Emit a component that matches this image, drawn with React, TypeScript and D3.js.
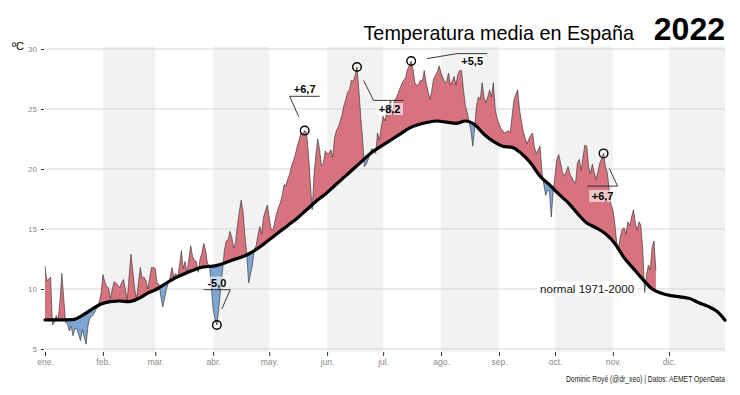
import React, { useEffect, useRef } from "react";
import * as d3 from "d3";

// month tick labels
const monthLabels = ["ene.", "feb.", "mar.", "abr.", "may.", "jun.", "jul.", "ago.", "sep.", "oct.", "nov.", "dic."];
const yTicks = [5, 10, 15, 20, 25, 30];

// daily mean temperature 2022 (ºC), one value per day from 1 Jan
const tempDaily = [
  // ene.
  11.9, 10.7, 10.8, 11.0, 7.0, 7.2, 7.8, 7.4, 9.0, 11.3, 9.3, 7.2, 7.1, 6.5, 6.9, 6.1, 6.7, 6.7, 6.2, 5.7,
  6.6, 6.0, 5.4, 6.9, 7.6, 7.7, 7.9, 8.2, 8.5, 8.9, 9.6,
  // feb.
  11.2, 10.6, 10.2, 10.1, 9.2, 10.0, 10.6, 10.5, 10.3, 10.1, 10.5, 10.8, 10.0, 9.1, 11.0, 12.9, 11.5, 10.0,
  9.2, 10.5, 11.8, 10.9, 11.0, 10.7, 10.0, 10.9, 11.8, 11.8,
  // mar.
  11.7, 10.5, 10.4, 9.4, 8.5, 9.2, 10.0, 10.5, 11.0, 11.8, 11.0, 11.3, 10.9, 12.0, 13.2, 11.7, 12.3, 11.3,
  12.5, 13.6, 12.7, 12.4, 12.3, 11.4, 12.5, 13.0, 13.8, 13.2, 12.1, 12.0, 10.2,
  // abr.
  8.3, 7.5, 7.0, 8.3, 10.0, 11.5, 13.2, 14.0, 14.1, 14.8, 14.3, 13.4, 13.9, 15.3, 16.4, 17.4, 16.5, 14.5,
  12.9, 10.5, 11.2, 12.0, 13.3, 13.6, 14.5, 15.2, 14.6, 16.0, 16.5, 17.0,
  // may.
  16.0, 15.0, 14.9, 15.6, 16.3, 16.8, 17.2, 17.8, 18.7, 18.6, 19.2, 19.6, 20.3, 20.7, 21.2, 21.9, 22.4, 23.0,
  22.9, 23.2, 23.0, 21.3, 19.0, 16.6, 19.5, 21.2, 22.5, 21.6, 20.3, 20.5, 21.5,
  // jun.
  21.3, 21.3, 21.6, 21.0, 22.6, 23.2, 23.5, 24.0, 24.5, 25.3, 25.8, 26.4, 26.6, 27.4, 27.3, 27.8, 28.5, 26.6,
  24.4, 22.5, 20.2, 20.4, 20.8, 21.3, 21.7, 21.5, 21.3, 23.0, 22.4, 23.5,
  // jul.
  24.4, 24.0, 24.8, 25.3, 25.7, 24.6, 25.7, 25.9, 26.3, 26.7, 27.1, 27.4, 27.6, 28.3, 28.6, 29.0, 28.3, 27.2,
  26.9, 27.1, 27.4, 27.3, 28.2, 27.2, 26.5, 25.8, 26.5, 27.5, 27.8, 28.1, 28.6,
  // ago.
  28.0, 27.6, 27.2, 27.3, 28.0, 27.0, 27.3, 27.7, 27.0, 27.9, 28.2, 28.2, 26.6, 25.3, 24.7, 24.0, 23.2, 21.9,
  23.5, 25.3, 26.0, 25.8, 27.2, 26.0, 25.5, 26.0, 26.6, 26.0, 27.2, 25.0, 24.2,
  // sep.
  23.8, 23.4, 23.2, 23.0, 23.1, 23.2, 23.0, 24.4, 25.7, 26.2, 26.6, 25.0, 24.0, 23.1, 22.6, 22.1, 22.5, 22.8,
  23.0, 21.8, 21.3, 21.6, 21.9, 19.8, 18.7, 17.8, 18.2, 18.2, 16.0, 18.0,
  // oct.
  19.5, 20.8, 21.2, 20.5, 19.7, 19.4, 19.8, 20.2, 19.6, 19.3, 19.0, 18.8, 20.5, 20.8, 19.9, 21.0, 22.0, 21.9,
  20.2, 19.6, 20.4, 19.7, 19.1, 19.8, 20.5, 20.9, 21.3, 20.2, 19.7, 18.3, 17.0,
  // nov.
  16.6, 15.5, 13.9, 13.4, 14.4, 15.0, 15.1, 14.6, 15.6, 15.3, 16.0, 16.6, 15.5, 14.9, 15.6, 15.3, 13.2, 9.7,
  11.2, 12.0, 11.6, 13.5, 14.0, 11.5,
];

// normal 1971-2000: day of year -> ºC
const normalDay = [
  0, 5, 10, 15, 20, 25, 30, 35, 40, 45, 50, 55, 60, 65, 70, 75, 80, 85, 90, 95, 100, 105, 110, 115, 120, 125,
  130, 135, 140, 145, 150, 155, 160, 165, 170, 175, 180, 185, 190, 195, 200, 205, 210, 215, 220, 225, 230, 235,
  240, 245, 250, 255, 260, 265, 270, 275, 280, 285, 290, 295, 300, 305, 310, 315, 320, 325, 330, 335, 340, 345,
  350, 355, 360, 364,
];
const normalTemp = [
  7.42, 7.42, 7.43, 7.45, 7.8, 8.3, 8.75, 8.95, 9.0, 8.95, 9.2, 9.65, 10.0, 10.5, 10.95, 11.3, 11.6, 11.85, 11.9,
  12.1, 12.4, 12.65, 13.0, 13.5, 14.1, 14.7, 15.3, 15.9, 16.6, 17.3, 17.9, 18.6, 19.3, 20.0, 20.7, 21.4, 21.9,
  22.4, 22.9, 23.4, 23.7, 23.9, 24.0, 23.9, 23.8, 24.0, 23.7, 22.9, 22.3, 21.9, 21.8, 21.3, 20.5, 19.4, 18.7,
  17.9, 17.2, 16.3, 15.5, 15.1, 14.6, 13.8, 12.6, 11.7, 10.8, 10.0, 9.65, 9.45, 9.35, 9.2, 8.85, 8.55, 8.1, 7.4,
];

// highlighted anomalies
const annDay = [92, 139, 167, 196, 299];
const annLabel = ["-5,0", "+6,7", "+8,2", "+5,5", "+6,7"];

const W = 740;
const H = 395;
const FONT = "'Liberation Sans', Arial, sans-serif";
const NARROW = "'Liberation Sans Narrow', 'Arial Narrow', 'Liberation Sans', Arial, sans-serif";

// connector layout relative to the circle: start, elbow, end of the horizontal, text x, text baseline
const annLayout = [
  { s: [5, -16], e: [13.3, -35.3], lx: -13.4, tx: 0, ty: -38.5 },
  { s: [-6, -14], e: [-15, -34.3], lx: 15, tx: 0, ty: -38 },
  { s: [6.6, 13.4], e: [16.6, 33.4], lx: 46.6, tx: 32.6, ty: 46 },
  { s: [16, -2.4], e: [46, -7.4], lx: 76, tx: 61, ty: 4.3 },
  { s: [5.7, 15], e: [14, 32.7], lx: -16, tx: -1, ty: 46.5 },
];

const App = () => {
  const svgRef = useRef<SVGSVGElement>(null);

  useEffect(() => {
    document.body.style.margin = "0";
    const svg = d3.select(svgRef.current);
    svg.selectAll("*").remove();

    const day0 = new Date(Date.UTC(2022, 0, 1));
    const dayDate = (d: number) => d3.utcDay.offset(day0, d);
    const x = d3.scaleUtc().domain([day0, dayDate(364)]).range([45, 725]);
    const y = d3.scaleLinear().domain([5, 30]).range([349, 49]);
    const panelTop = 46.5;
    const panelBottom = 352;

    const monthStarts = d3.range(12).map((m) => new Date(Date.UTC(2022, m, 1)));

    // alternating month bands
    svg
      .append("g")
      .selectAll("rect")
      .data(monthStarts.filter((_, i) => i % 2 === 1))
      .join("rect")
      .attr("x", (d) => x(d))
      .attr("y", panelTop)
      .attr("width", (d) => {
        const next = d.getUTCMonth() === 11 ? dayDate(364) : new Date(Date.UTC(2022, d.getUTCMonth() + 1, 1));
        return x(next) - x(d);
      })
      .attr("height", panelBottom - panelTop)
      .attr("fill", "#f2f2f2");

    // horizontal grid
    svg
      .append("g")
      .selectAll("line")
      .data(yTicks)
      .join("line")
      .attr("x1", 45)
      .attr("x2", 725)
      .attr("y1", (d) => y(d))
      .attr("y2", (d) => y(d))
      .attr("stroke", "#d6d6d6")
      .attr("stroke-width", 1.1);

    // axes
    const yAxis = svg
      .append("g")
      .attr("transform", "translate(44,0)")
      .call(d3.axisLeft(y).tickValues(yTicks).tickSize(3).tickPadding(4));
    yAxis.select(".domain").remove();
    yAxis.selectAll(".tick line").attr("stroke", "#333");
    yAxis.selectAll(".tick text").attr("fill", "#8a8a8a").attr("font-size", 8).attr("font-family", NARROW);

    const xAxis = svg
      .append("g")
      .attr("transform", `translate(0,${panelBottom})`)
      .call(
        d3
          .axisBottom(x)
          .tickValues(monthStarts)
          .tickSize(4)
          .tickPadding(3)
          .tickFormat((_, i) => monthLabels[i])
      );
    xAxis.select(".domain").remove();
    xAxis.selectAll(".tick line").attr("stroke", "#333");
    xAxis.selectAll(".tick text").attr("fill", "#8a8a8a").attr("font-size", 8.5).attr("font-family", NARROW);

    // series
    const obs = tempDaily.map((t, i) => ({ date: dayDate(i), t }));
    const norm = normalDay.map((d, i) => ({ date: dayDate(d), t: normalTemp[i] }));
    const curveN = d3.curveMonotoneX;

    const defs = svg.append("defs");
    defs
      .append("clipPath")
      .attr("id", "aboveNormal")
      .append("path")
      .attr(
        "d",
        d3
          .area<{ date: Date; t: number }>()
          .x((d) => x(d.date))
          .y0(0)
          .y1((d) => y(d.t))
          .curve(curveN)(norm)
      );
    defs
      .append("clipPath")
      .attr("id", "belowNormal")
      .append("path")
      .attr(
        "d",
        d3
          .area<{ date: Date; t: number }>()
          .x((d) => x(d.date))
          .y0(H)
          .y1((d) => y(d.t))
          .curve(curveN)(norm)
      );

    // warmer than normal
    svg
      .append("path")
      .datum(obs)
      .attr("clip-path", "url(#aboveNormal)")
      .attr("fill", "#d6737f")
      .attr(
        "d",
        d3
          .area<{ date: Date; t: number }>()
          .x((d) => x(d.date))
          .y0(H)
          .y1((d) => y(d.t))
      );

    // colder than normal
    svg
      .append("path")
      .datum(obs)
      .attr("clip-path", "url(#belowNormal)")
      .attr("fill", "#7ea5d3")
      .attr(
        "d",
        d3
          .area<{ date: Date; t: number }>()
          .x((d) => x(d.date))
          .y0(0)
          .y1((d) => y(d.t))
      );

    svg
      .append("path")
      .datum(obs)
      .attr("fill", "none")
      .attr("stroke", "#2a2a2a")
      .attr("stroke-width", 0.6)
      .attr(
        "d",
        d3
          .line<{ date: Date; t: number }>()
          .x((d) => x(d.date))
          .y((d) => y(d.t))
      );

    svg
      .append("path")
      .datum(norm)
      .attr("fill", "none")
      .attr("stroke", "#000")
      .attr("stroke-width", 3.2)
      .attr("stroke-linecap", "round")
      .attr(
        "d",
        d3
          .line<{ date: Date; t: number }>()
          .x((d) => x(d.date))
          .y((d) => y(d.t))
          .curve(curveN)
      );

    // label of the normal line
    const normG = svg.append("g");
    const normText = normG
      .append("text")
      .attr("x", 540)
      .attr("y", y(10) + 4.3)
      .attr("font-family", FONT)
      .attr("font-size", 11.6)
      .attr("fill", "#111")
      .text("normal 1971-2000");
    const nb = (normText.node() as SVGTextElement).getBBox();
    normG
      .insert("rect", "text")
      .attr("x", nb.x - 3)
      .attr("y", nb.y - 1)
      .attr("width", nb.width + 6)
      .attr("height", nb.height + 2)
      .attr("fill", "#fff");

    // anomaly annotations
    annDay.forEach((d, i) => {
      const cx = x(dayDate(d));
      const cy = y(tempDaily[d]);
      const L = annLayout[i];
      const g = svg.append("g");
      g.append("path")
        .attr(
          "d",
          d3.line()([
            [cx + L.s[0], cy + L.s[1]],
            [cx + L.e[0], cy + L.e[1]],
            [cx + L.lx, cy + L.e[1]],
          ])
        )
        .attr("fill", "none")
        .attr("stroke", "#222")
        .attr("stroke-width", 0.9);
      g.append("circle")
        .attr("cx", cx)
        .attr("cy", cy)
        .attr("r", 4.3)
        .attr("fill", "none")
        .attr("stroke", "#000")
        .attr("stroke-width", 1.4);
      const t = g
        .append("text")
        .attr("x", cx + L.tx)
        .attr("y", cy + L.ty)
        .attr("text-anchor", "middle")
        .attr("font-family", FONT)
        .attr("font-weight", "bold")
        .attr("font-size", 11)
        .attr("fill", "#000")
        .text(annLabel[i]);
      const b = (t.node() as SVGTextElement).getBBox();
      g.insert("rect", "text")
        .attr("x", b.x - 2.5)
        .attr("y", b.y)
        .attr("width", b.width + 5)
        .attr("height", b.height)
        .attr("fill", "#fff")
        .attr("fill-opacity", 0.6);
    });

    // titles
    svg
      .append("text")
      .attr("x", 725)
      .attr("y", 40)
      .attr("text-anchor", "end")
      .attr("font-family", FONT)
      .attr("font-weight", "bold")
      .attr("font-size", 32)
      .attr("fill", "#000")
      .text("2022");
    svg
      .append("text")
      .attr("x", 634)
      .attr("y", 40)
      .attr("text-anchor", "end")
      .attr("font-family", FONT)
      .attr("font-size", 19.8)
      .attr("fill", "#000")
      .text("Temperatura media en España");
    svg
      .append("text")
      .attr("x", 12)
      .attr("y", 50)
      .attr("font-family", FONT)
      .attr("font-size", 11)
      .attr("fill", "#000")
      .text("ºC");

    // caption, squeezed horizontally to the narrow look of the original
    const capG = svg.append("g");
    const cap = capG
      .append("text")
      .attr("x", 0)
      .attr("y", 0)
      .attr("text-anchor", "end")
      .attr("font-family", NARROW)
      .attr("font-size", 9.2)
      .attr("fill", "#222")
      .text("Dominic Royé (@dr_xeo) | Datos: AEMET OpenData");
    const capW = (cap.node() as SVGTextElement).getComputedTextLength();
    const sx = Math.min(1, 159 / capW);
    capG.attr("transform", `translate(725,382) scale(${sx},1)`);
  }, []);

  return <svg ref={svgRef} width={W} height={H} style={{ display: "block", background: "#fff" }} />;
};

export default App;
